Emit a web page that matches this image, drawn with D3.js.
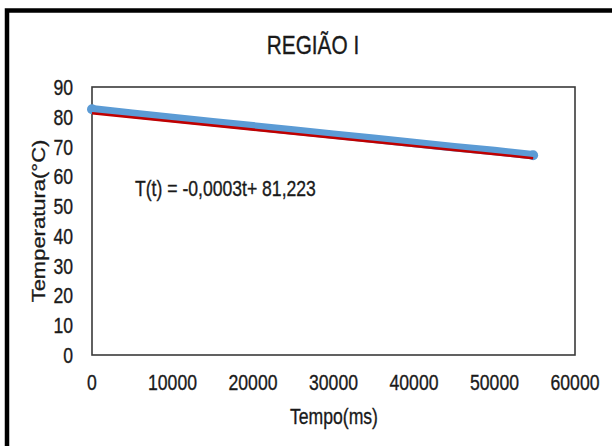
<!DOCTYPE html>
<html>
<head>
<meta charset="utf-8">
<script src="https://cdn.jsdelivr.net/npm/d3@7"></script>
<style>
  body { margin: 0; background: #fff; }
  svg text { font-family: "Liberation Sans", Arial, sans-serif; fill: #1a1a1a; stroke: #1a1a1a; stroke-width: 0.35; }
</style>
</head>
<body>
<svg id="canvas"></svg>
<script>
//--chart data
let title = "REGIÃO I";
let xTitle = "Tempo(ms)";
let yTitle = "Temperatura(°C)";
let xTicks = [0, 10000, 20000, 30000, 40000, 50000, 60000];
let yTicks = [0, 10, 20, 30, 40, 50, 60, 70, 80, 90];

// measured temperature (°C) vs time (ms)
let tempos = [0, 5000, 10000, 15000, 20000, 25000, 30000, 35000, 40000, 45000, 50000, 54800];
let temperaturas = [82.5, 81.0, 79.6, 78.2, 76.8, 75.4, 74.0, 72.6, 71.2, 69.8, 68.5, 67.1];

// trendline T(t) = a*t + b
let trendSlope = -0.000276;
let trendIntercept = 81.223;
let trendLabel = "T(t) = -0,0003t+ 81,223";
//--

//--canvas
let width = 612;
let height = 446;
let squeeze = 0.8; // picture is narrow, text looks condensed

let canvas = d3.select("#canvas")
canvas.attr("width", width)
canvas.attr("height", height)

let margin = {left: 92, right: 37, top: 87, bottom: 91};
//--

let xScale = d3.scaleLinear()
               .domain([0, 60000])
               .range([margin.left, width - margin.right])

let yScale = d3.scaleLinear()
               .domain([0, 90])
               .range([height - margin.bottom, margin.top])

// horizontal text, squeezed like the rest of the picture
let addText = (x, y, txt, size, anchor) => {
    return canvas.append('text')
                 .attr('transform', 'translate(' + x + ',' + y + ') scale(' + squeeze + ',1)')
                 .attr('text-anchor', anchor)
                 .attr('font-size', size)
                 .text(txt)
}

let drawChart = () => {

    // outer frame (cut off at right and bottom)
    canvas.append('rect')
          .attr('x', 7)
          .attr('y', 10.5)
          .attr('width', 700)
          .attr('height', 600)
          .attr('fill', 'none')
          .attr('stroke', '#000')
          .attr('stroke-width', 4.5)

    addText(313, 54, title, 26, 'middle')

    // plot area border
    canvas.append('rect')
          .attr('x', xScale(0))
          .attr('y', yScale(90))
          .attr('width', xScale(60000) - xScale(0))
          .attr('height', yScale(0) - yScale(90))
          .attr('fill', 'none')
          .attr('stroke', '#3a3a3a')
          .attr('stroke-width', 1.6)

    // y tick labels
    yTicks.forEach(v => {
        addText(73, yScale(v) + 8, v, 22, 'end')
    })

    // x tick labels
    xTicks.forEach(v => {
        addText(xScale(v), 390, v, 22, 'middle')
    })

    addText(334, 424, xTitle, 22, 'middle')

    canvas.append('text')
          .attr('transform', 'translate(45,' + yScale(45) + ') rotate(-90) scale(1,' + squeeze + ')')
          .attr('text-anchor', 'middle')
          .attr('font-size', 22)
          .text(yTitle)

    // measured data (dense markers look like a thick band)
    let points = tempos.map((t, i) => [t, temperaturas[i]])

    let line = d3.line()
                 .x(d => xScale(d[0]))
                 .y(d => yScale(d[1]))

    canvas.append('path')
          .datum(points)
          .attr('d', line)
          .attr('fill', 'none')
          .attr('stroke', '#5b9bd5')
          .attr('stroke-width', 8.5)
          .attr('stroke-linecap', 'round')
          .attr('stroke-linejoin', 'round')

    canvas.selectAll('circle.pt')
          .data([points[0], points[points.length - 1]])
          .enter()
          .append('circle')
          .attr('class', 'pt')
          .attr('cx', d => xScale(d[0]))
          .attr('cy', d => yScale(d[1]))
          .attr('r', 5)
          .attr('fill', '#5b9bd5')

    // linear trendline
    let tEnd = tempos[tempos.length - 1]
    let trend = [[0, trendIntercept], [tEnd, trendIntercept + trendSlope * tEnd]]

    canvas.append('path')
          .datum(trend)
          .attr('d', line)
          .attr('fill', 'none')
          .attr('stroke', '#c00000')
          .attr('stroke-width', 2.5)

    addText(135, 196, trendLabel, 22, 'start')
}

drawChart()
</script>
</body>
</html>
